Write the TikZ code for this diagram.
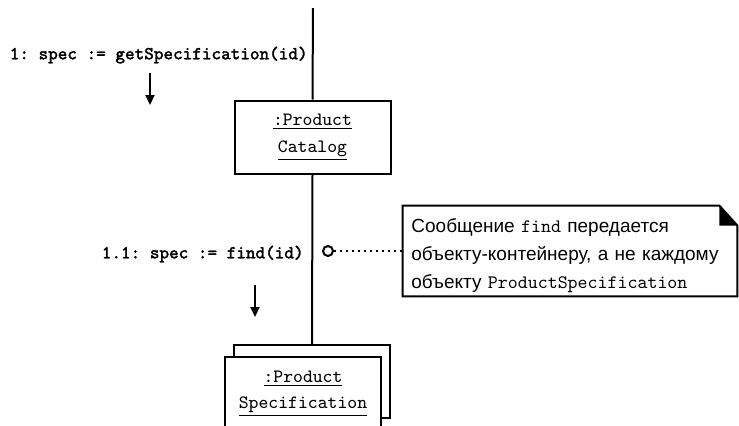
\documentclass[tikz,border=0pt]{standalone}
\usepackage{fontspec}
\setsansfont{Liberation Sans}
\newfontfamily\msgfont[FakeBold=1.6]{Latin Modern Mono}
\usetikzlibrary{positioning, arrows.meta, calc}

\begin{document}
\frenchspacing
\begin{tikzpicture}[
    x=0.5pt, y=-0.5pt,
    obj/.style={rectangle, draw, line width=1pt, fill=white, minimum width=78pt,
                minimum height=36.5pt, inner sep=0pt, align=center,
                font=\fontsize{9.4}{12}\selectfont\ttfamily},
    msg/.style={font=\fontsize{9.15}{11}\selectfont\msgfont, inner sep=0pt},
    flow/.style={-{Triangle[length=5pt, width=4.5pt]}, line width=1pt},
    life/.style={line width=1pt},
    notebox/.style={minimum width=167pt, minimum height=45pt, inner sep=0pt},
    notetxt/.style={font=\fontsize{9.5}{14}\selectfont\sffamily, align=left,
                    inner sep=0pt, text width=159pt},
  ]
  \useasboundingbox (0,0) rectangle (739,425);
  \clip (0,0) rectangle (739,425);

  % Objects on the lifeline
  \node[obj] (catalog) at (312.5,137) {\underline{:Product}\\[1.5pt]\underline{Catalog}};
  \node[obj] (specback) at (312,381.5) {};
  \node[obj] (specfront) at (303,393.5) {\underline{:Product}\\[1pt]\underline{Specification}};
  \coordinate (top) at (313,8);

  % Lifeline
  \draw[life] (top) -- (catalog.north);
  \draw[life] (catalog.south) -- (specback.north);

  % Messages
  \node[msg, anchor=east] (msgone) at (308,55) {1: spec := getSpecification(id)};
  \coordinate (arrAtop) at (150,73);
  \coordinate (arrAend) at (150,105);
  \draw[flow] (arrAtop) -- (arrAend);

  \node[msg, anchor=east] (msgtwo) at (304,254) {1.1: spec := find(id)};
  \coordinate (arrBtop) at (255,285);
  \coordinate (arrBend) at (255,317);
  \draw[flow] (arrBtop) -- (arrBend);

  % Note with dog-ear
  \node[notebox] (note) at (570,251) {};
  \node[notetxt, anchor=west] (notetext) at (411,256)
    {Сообщение {\ttfamily find} передается\\
     объекту-контейнеру, а не каждому\\
     объекту {\ttfamily ProductSpecification}};
  \draw[line width=1pt] (note.south west) -- (note.north west)
    -- ([xshift=-9pt]note.north east) -- ([yshift=-10pt]note.north east)
    -- (note.south east) -- cycle;
  \fill ([xshift=-9pt]note.north east) -- ([xshift=-9pt, yshift=-10pt]note.north east)
    -- ([yshift=-10pt]note.north east) -- cycle;

  \node[circle, draw, line width=1pt, inner sep=0pt, minimum size=5pt] (hook) at (328,251) {};
  \draw[dotted, line width=1pt] (hook) -- (note.west |- hook);
\end{tikzpicture}
\end{document}
